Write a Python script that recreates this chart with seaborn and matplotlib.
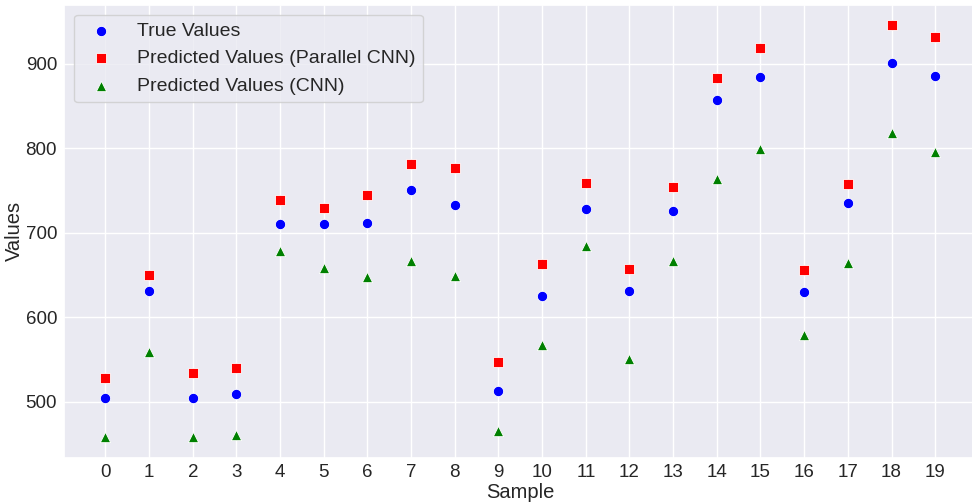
import numpy as np
import pandas as pd
import matplotlib
matplotlib.use("Agg")
import matplotlib.pyplot as plt
import seaborn as sns

samples = list(range(20))
true_values = [504, 631, 505, 509, 710, 710, 711, 751, 733, 513,
               625, 728, 631, 726, 857, 884, 630, 735, 901, 885]
pred_parallel_cnn = [528, 650, 534, 540, 739, 729, 745, 781, 777, 547,
                     663, 759, 657, 754, 883, 918, 656, 757, 945, 931]
pred_cnn = [459, 559, 458, 461, 678, 658, 648, 666, 649, 465,
            567, 684, 551, 667, 764, 799, 579, 664, 818, 796]

sns.set_theme(style="darkgrid")
plt.rcParams['font.family'] = ['Liberation Sans', 'DejaVu Sans']

fig = plt.figure(figsize=(9.72, 5.04), dpi=100)
ax = fig.add_axes([0.0658, 0.0913, 0.939, 0.899])

df = pd.DataFrame({"Sample": samples, "True": true_values,
                   "Par": pred_parallel_cnn, "CNN": pred_cnn})

sns.scatterplot(data=df, x="Sample", y="True", color="blue", marker="o",
                s=55, label="True Values", ax=ax)
sns.scatterplot(data=df, x="Sample", y="Par", color="red", marker="s",
                s=55, label="Predicted Values (Parallel CNN)", ax=ax)
sns.scatterplot(data=df, x="Sample", y="CNN", color="green", marker="^",
                s=55, label="Predicted Values (CNN)", ax=ax)

ax.set_xticks(samples)
ax.set_xticklabels([str(s) for s in samples])
ax.set_yticks([500, 600, 700, 800, 900])
ax.tick_params(axis="x", labelsize=13.5, length=1.0, pad=3.5)
ax.tick_params(axis="y", labelsize=13.5, length=1.5, pad=3.5)
ax.set_xlabel("Sample", fontsize=14.5, labelpad=1)
ax.set_ylabel("Values", fontsize=14.5, labelpad=1)

leg = ax.legend(loc="upper left", fontsize=14, handletextpad=0.85,
                labelspacing=0.5, borderpad=0.4)

fig.savefig("out.png", dpi=100)
